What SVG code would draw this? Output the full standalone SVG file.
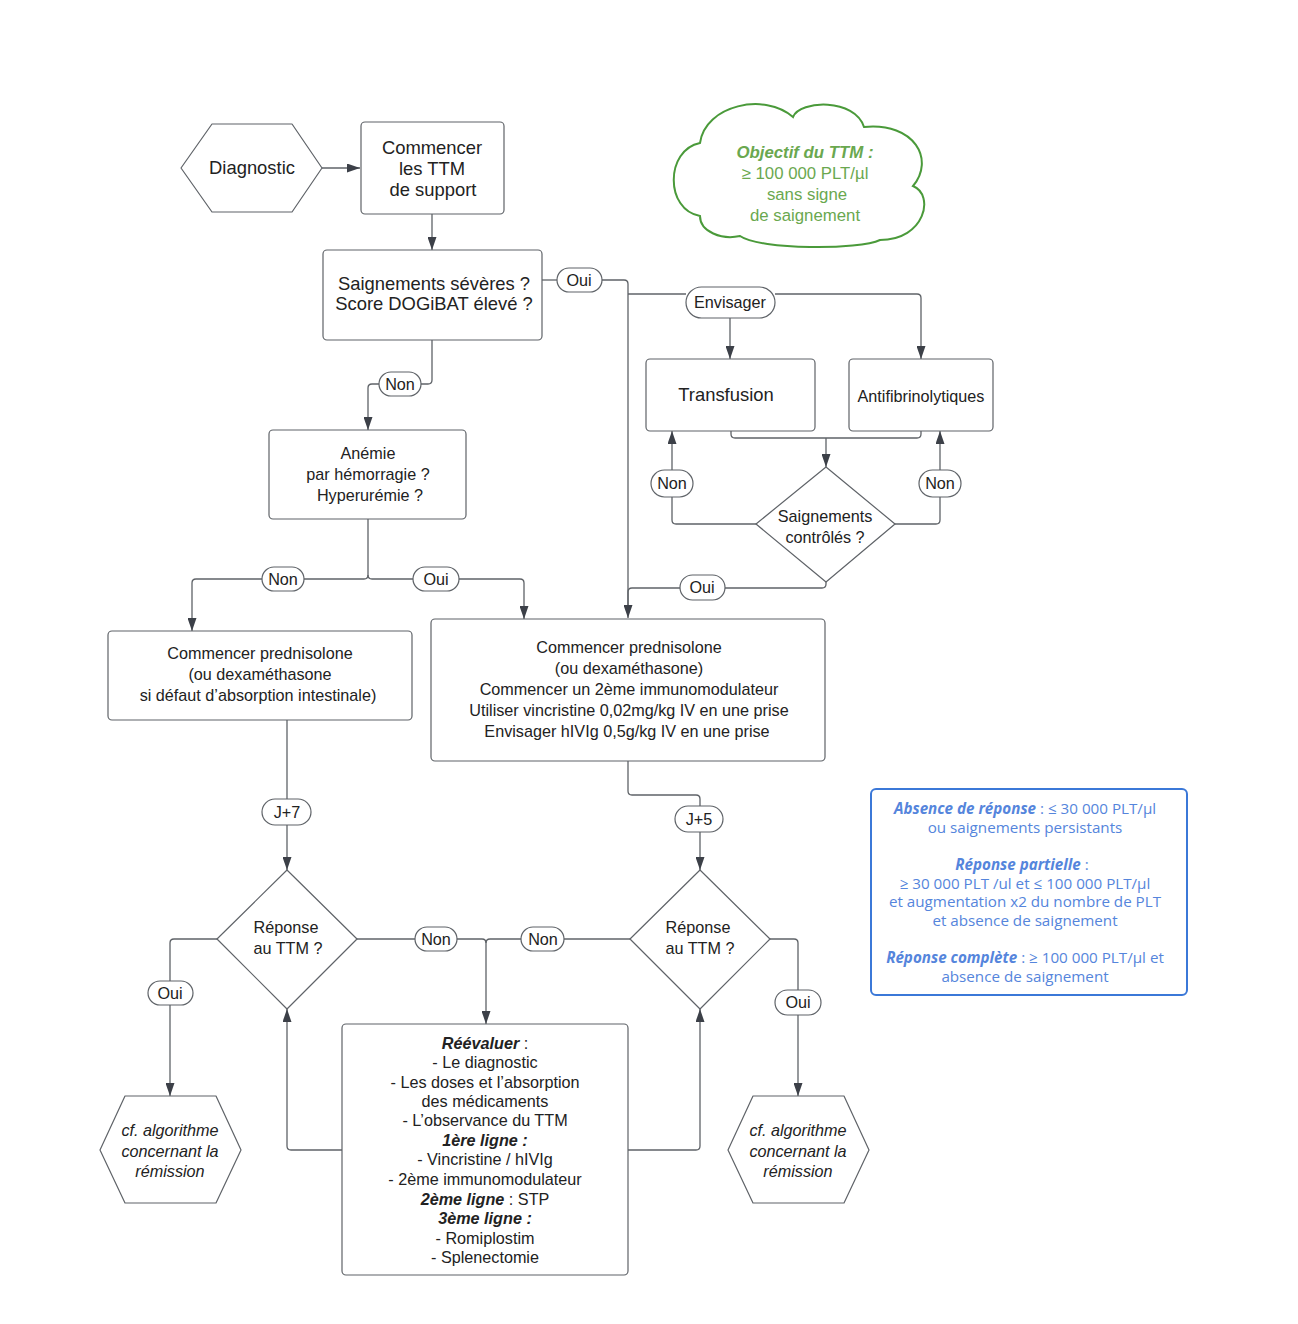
<svg xmlns="http://www.w3.org/2000/svg" width="1298" height="1324" viewBox="0 0 1298 1324">
<style>
.bg{fill:#ffffff}
.box{fill:#ffffff;stroke:#5f6368;stroke-width:1.2}
.pill{fill:#ffffff;stroke:#5f6368;stroke-width:1.2}
.t{font-family:"Liberation Sans",Arial,sans-serif;fill:#222;text-anchor:middle}
.t17{font-size:18.4px}
.t15{font-size:16.2px}
.it{font-style:italic}
.bi{font-style:italic;font-weight:bold}
.con{fill:none;stroke:#5f6368;stroke-width:1.3}
.cloud{fill:#ffffff;stroke:#4a9a3a;stroke-width:2}
.gt{font-family:"Liberation Sans",Arial,sans-serif;font-size:16.8px;fill:#6aa84f;text-anchor:middle}
.blue{fill:#ffffff;stroke:#3b78d8;stroke-width:2}
.bt{font-family:"Open Sans","Noto Sans",sans-serif;font-size:15.2px;fill:#5585dc;text-anchor:middle}
</style>
<defs>
<marker id="ah" viewBox="0 0 13 9" refX="13" refY="4.5" markerWidth="13" markerHeight="9" markerUnits="userSpaceOnUse" orient="auto">
<path d="M0,0 L13,4.5 L0,9 z" fill="#3c4048"/>
</marker>
</defs>
<rect class="bg" x="0" y="0" width="1298" height="1324"/>

<g id="connectors">
<path class="con" d="M322,168 H360" marker-end="url(#ah)"/>
<path class="con" d="M432,214 V250" marker-end="url(#ah)"/>
<path class="con" d="M542,280 H557"/>
<path class="con" d="M602,280 H624 Q628,280 628,284 V618" marker-end="url(#ah)"/>
<path class="con" d="M628,294 H686"/>
<path class="con" d="M775,294 H917 Q921,294 921,298 V359" marker-end="url(#ah)"/>
<path class="con" d="M730,318 V359" marker-end="url(#ah)"/>
<path class="con" d="M731,431 V434 Q731,438 735,438 H917 Q921,438 921,434 V431"/>
<path class="con" d="M826,438 V467" marker-end="url(#ah)"/>
<path class="con" d="M756,524 H676 Q672,524 672,520 V497"/>
<path class="con" d="M672,470 V431" marker-end="url(#ah)"/>
<path class="con" d="M895,524 H936 Q940,524 940,520 V497"/>
<path class="con" d="M940,470 V431" marker-end="url(#ah)"/>
<path class="con" d="M826,582 V584 Q826,588 822,588 H725"/>
<path class="con" d="M680,588 H632 Q628,588 628,592 V605"/>
<path class="con" d="M432,340 V380 Q432,384 428,384 H421"/>
<path class="con" d="M379,384 H372 Q368,384 368,388 V430" marker-end="url(#ah)"/>
<path class="con" d="M368,519 V575 Q368,579 364,579 H304"/>
<path class="con" d="M262,579 H196 Q192,579 192,583 V631" marker-end="url(#ah)"/>
<path class="con" d="M368,575 Q368,579 372,579 H413"/>
<path class="con" d="M459,579 H520 Q524,579 524,583 V619" marker-end="url(#ah)"/>
<path class="con" d="M287,720 V799"/>
<path class="con" d="M287,825 V870" marker-end="url(#ah)"/>
<path class="con" d="M628,761 V791 Q628,795 632,795 H696 Q700,795 700,799 V806"/>
<path class="con" d="M700,832 V870" marker-end="url(#ah)"/>
<path class="con" d="M357,939 H415"/>
<path class="con" d="M457,939 H482 Q486,939 486,943 V1024" marker-end="url(#ah)"/>
<path class="con" d="M630,939 H564"/>
<path class="con" d="M521,939 H490 Q486,939 486,943"/>
<path class="con" d="M217,939 H174 Q170,939 170,943 V981"/>
<path class="con" d="M170,1005 V1096" marker-end="url(#ah)"/>
<path class="con" d="M770,939 H794 Q798,939 798,943 V990"/>
<path class="con" d="M798,1015 V1096" marker-end="url(#ah)"/>
<path class="con" d="M342,1150 H291 Q287,1150 287,1146 V1009" marker-end="url(#ah)"/>
<path class="con" d="M628,1150 H696 Q700,1150 700,1146 V1009" marker-end="url(#ah)"/>
</g>

<g id="n-diagnostic">
<polygon class="box" stroke-linejoin="round" points="181,168 212,124 292,124 322,168 292,212 212,212"/>
<text class="t t17" x="252" y="174">Diagnostic</text>
</g>

<g id="n-support">
<rect class="box" x="361" y="122" width="143" height="92" rx="4"/>
<text class="t t17" x="432" y="154">Commencer</text>
<text class="t t17" x="432" y="175">les TTM</text>
<text class="t t17" x="433" y="196">de support</text>
</g>

<g id="n-severe">
<rect class="box" x="323" y="250" width="219" height="90" rx="4"/>
<text class="t t17" x="434" y="290">Saignements sévères ?</text>
<text class="t t17" x="434" y="310">Score DOGiBAT élevé ?</text>
</g>

<g id="n-objectif">
<path class="cloud" d="M700,143 C705,105 765,92 793,117 C800,100 855,98 864,127 C915,122 935,160 913,186 C935,195 925,240 880,240 C860,250 760,250 740,236 C722,240 700,232 700,216 C665,210 665,150 700,143 Z"/>
<text class="gt bi" x="805" y="158">Objectif du TTM :</text>
<text class="gt" x="805" y="179">≥ 100 000 PLT/µl</text>
<text class="gt" x="807" y="200">sans signe</text>
<text class="gt" x="805" y="221">de saignement</text>
</g>

<g id="n-envisager">
<rect class="pill" x="686" y="287" width="89" height="31" rx="15.5"/>
<text class="t t15" x="730" y="308">Envisager</text>
</g>

<g id="n-transfusion">
<rect class="box" x="646" y="359" width="169" height="72" rx="4"/>
<text class="t t17" x="726" y="401">Transfusion</text>
</g>

<g id="n-antifib">
<rect class="box" x="849" y="359" width="144" height="72" rx="4"/>
<text class="t t15" x="921" y="402">Antifibrinolytiques</text>
</g>

<g id="n-controles">
<polygon class="box" stroke-linejoin="round" points="826,467 895,524 826,582 756,524"/>
<text class="t t15" x="825" y="522">Saignements</text>
<text class="t t15" x="825" y="543">contrôlés ?</text>
</g>

<g id="n-anemie">
<rect class="box" x="269" y="430" width="197" height="89" rx="4"/>
<text class="t t15" x="368" y="459">Anémie</text>
<text class="t t15" x="368" y="480">par hémorragie ?</text>
<text class="t t15" x="370" y="501">Hyperurémie ?</text>
</g>

<g id="n-pred1">
<rect class="box" x="108" y="631" width="304" height="89" rx="4"/>
<text class="t t15" x="260" y="659">Commencer prednisolone</text>
<text class="t t15" x="260" y="680">(ou dexaméthasone</text>
<text class="t t15" x="258" y="701">si défaut d’absorption intestinale)</text>
</g>

<g id="n-pred2">
<rect class="box" x="431" y="619" width="394" height="142" rx="4"/>
<text class="t t15" x="629" y="653">Commencer prednisolone</text>
<text class="t t15" x="629" y="674">(ou dexaméthasone)</text>
<text class="t t15" x="629" y="695">Commencer un 2ème immunomodulateur</text>
<text class="t t15" x="629" y="716">Utiliser vincristine 0,02mg/kg IV en une prise</text>
<text class="t t15" x="627" y="737">Envisager hIVIg 0,5g/kg IV en une prise</text>
</g>

<g id="n-rep1">
<polygon class="box" stroke-linejoin="round" points="287,870 357,939 287,1009 217,939"/>
<text class="t t15" x="286" y="933">Réponse</text>
<text class="t t15" x="288" y="954">au TTM ?</text>
</g>

<g id="n-rep2">
<polygon class="box" stroke-linejoin="round" points="700,870 770,939 700,1009 630,939"/>
<text class="t t15" x="698" y="933">Réponse</text>
<text class="t t15" x="700" y="954">au TTM ?</text>
</g>

<g id="n-reevaluer">
<rect class="box" x="342" y="1024" width="286" height="251" rx="4"/>
<text class="t t15" x="485" y="1049"><tspan class="bi">Réévaluer</tspan> :</text>
<text class="t t15" x="485" y="1068">- Le diagnostic</text>
<text class="t t15" x="485" y="1088">- Les doses et l’absorption</text>
<text class="t t15" x="485" y="1107">des médicaments</text>
<text class="t t15" x="485" y="1126">- L’observance du TTM</text>
<text class="t t15 bi" x="485" y="1146">1ère ligne :</text>
<text class="t t15" x="485" y="1165">- Vincristine / hIVIg</text>
<text class="t t15" x="485" y="1185">- 2ème immunomodulateur</text>
<text class="t t15" x="485" y="1205"><tspan class="bi">2ème ligne</tspan> : STP</text>
<text class="t t15 bi" x="485" y="1224">3ème ligne :</text>
<text class="t t15" x="485" y="1244">- Romiplostim</text>
<text class="t t15" x="485" y="1263">- Splenectomie</text>
</g>

<g id="n-remission1">
<polygon class="box" stroke-linejoin="round" points="100,1150 125,1096 216,1096 241,1150 216,1203 125,1203"/>
<text class="t t15 it" x="170" y="1136">cf. algorithme</text>
<text class="t t15 it" x="170" y="1157">concernant la</text>
<text class="t t15 it" x="170" y="1177">rémission</text>
</g>

<g id="n-remission2">
<polygon class="box" stroke-linejoin="round" points="728,1150 753,1096 844,1096 869,1150 844,1203 753,1203"/>
<text class="t t15 it" x="798" y="1136">cf. algorithme</text>
<text class="t t15 it" x="798" y="1157">concernant la</text>
<text class="t t15 it" x="798" y="1177">rémission</text>
</g>

<g id="n-legende">
<rect class="blue" x="871" y="789" width="316" height="206" rx="5"/>
<text class="bt" x="1025" y="814"><tspan class="bi">Absence de réponse</tspan> : ≤ 30 000 PLT/µl</text>
<text class="bt" x="1025" y="833">ou saignements persistants</text>
<text class="bt" x="1022" y="870"><tspan class="bi">Réponse partielle</tspan> :</text>
<text class="bt" x="1025" y="889">≥ 30 000 PLT /ul et ≤ 100 000 PLT/µl</text>
<text class="bt" x="1025" y="907">et augmentation x2 du nombre de PLT</text>
<text class="bt" x="1025" y="926">et absence de saignement</text>
<text class="bt" x="1025" y="963"><tspan class="bi">Réponse complète</tspan> : ≥ 100 000 PLT/µl et</text>
<text class="bt" x="1025" y="982">absence de saignement</text>
</g>

<g id="labels">
<rect class="pill" x="557" y="268" width="45" height="24" rx="12"/>
<text class="t t15" x="579" y="286">Oui</text>
<rect class="pill" x="379" y="372" width="42" height="24" rx="12"/>
<text class="t t15" x="400" y="390">Non</text>
<rect class="pill" x="651" y="470" width="42" height="27" rx="13.5"/>
<text class="t t15" x="672" y="489">Non</text>
<rect class="pill" x="919" y="470" width="42" height="27" rx="13.5"/>
<text class="t t15" x="940" y="489">Non</text>
<rect class="pill" x="680" y="575" width="45" height="25" rx="12.5"/>
<text class="t t15" x="702" y="593">Oui</text>
<rect class="pill" x="262" y="567" width="42" height="24" rx="12"/>
<text class="t t15" x="283" y="585">Non</text>
<rect class="pill" x="413" y="567" width="46" height="24" rx="12"/>
<text class="t t15" x="436" y="585">Oui</text>
<rect class="pill" x="262" y="799" width="49" height="26" rx="13"/>
<text class="t t15" x="287" y="818">J+7</text>
<rect class="pill" x="675" y="806" width="48" height="26" rx="13"/>
<text class="t t15" x="699" y="825">J+5</text>
<rect class="pill" x="415" y="927" width="42" height="24" rx="12"/>
<text class="t t15" x="436" y="945">Non</text>
<rect class="pill" x="521" y="927" width="43" height="24" rx="12"/>
<text class="t t15" x="543" y="945">Non</text>
<rect class="pill" x="148" y="981" width="45" height="24" rx="12"/>
<text class="t t15" x="170" y="999">Oui</text>
<rect class="pill" x="775" y="990" width="46" height="25" rx="12.5"/>
<text class="t t15" x="798" y="1008">Oui</text>
</g>
</svg>
